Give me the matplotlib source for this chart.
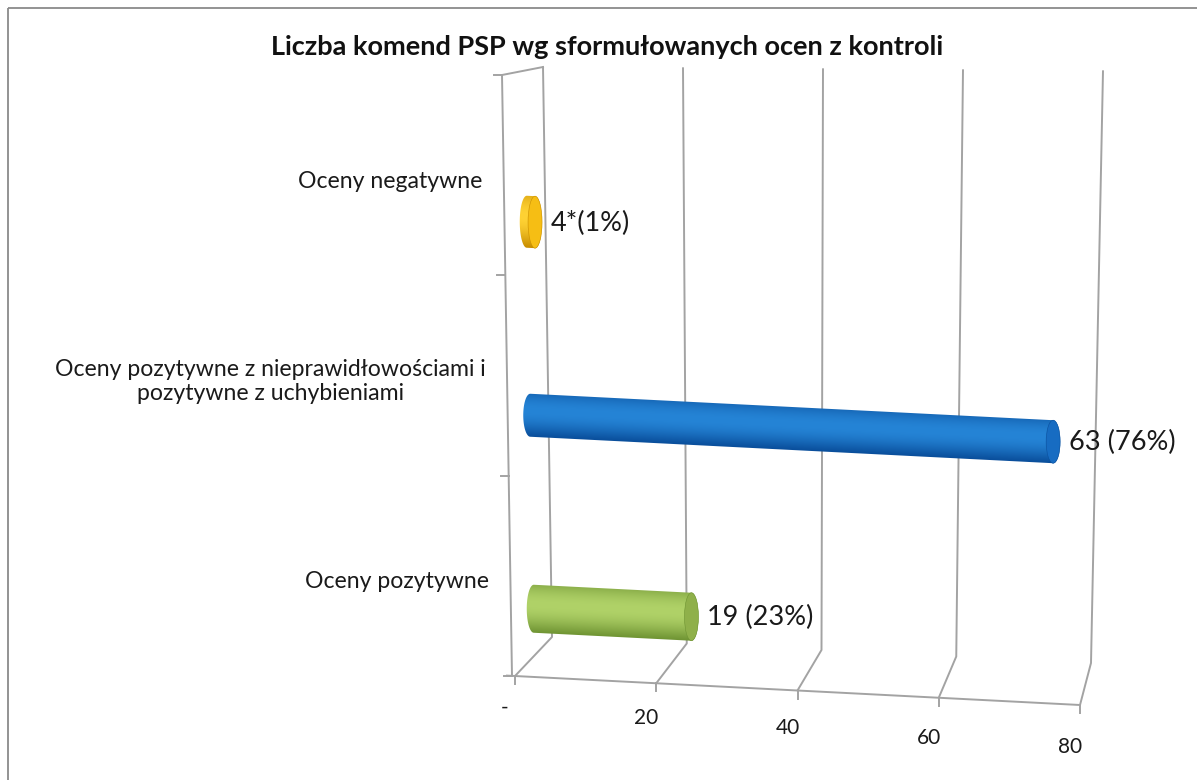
import matplotlib
matplotlib.use('Agg')
import matplotlib.pyplot as plt
from matplotlib.path import Path
from matplotlib.patches import PathPatch, Ellipse, Rectangle
import matplotlib.colors as mcolors
import numpy as np

plt.rcParams['font.family'] = ['Lato', 'DejaVu Sans']

title = "Liczba komend PSP wg sformułowanych ocen z kontroli"
categories = ["Oceny pozytywne",
              "Oceny pozytywne z nieprawidłowościami i\npozytywne z uchybieniami",
              "Oceny negatywne"]
# bar lengths as drawn in the chart (the "negative" bar is drawn at ~1)
values = [19, 63, 1]
bar_labels = ["19 (23%)", "63 (76%)", "4*(1%)"]
ticks = [0, 20, 40, 60, 80]
tick_labels = ["-", "20", "40", "60", "80"]
vmax = 80
ncat = len(categories)

# cylinder colours: (dark edge, highlight, end cap)
bar_colors = [("#6f9433", "#b0d268", "#8fb04a"),
              ("#0a4f9c", "#2584d6", "#176cc2"),
              ("#c98e00", "#ffd234", "#f6be14")]
radii = [24, 21.5, 26]
cap_w = 7
grid_col = "#a3a3a3"


def lerp(a, b, t):
    a = np.asarray(a, float)
    b = np.asarray(b, float)
    return a + (b - a) * t


# "3d" frame, done by hand in pixel space
wall = {(0, 0): (552, 637), (1, 0): (1091, 663), (0, 1): (543, 67), (1, 1): (1103, 71)}


def back(v, c):
    u = v / vmax
    w = c / ncat
    bottom = lerp(wall[0, 0], wall[1, 0], u)
    top = lerp(wall[0, 1], wall[1, 1], u)
    return lerp(bottom, top, w)


def front_floor(v):
    return lerp((515, 676), (1080, 705), v / vmax)


def front_axis(c):
    return lerp((512, 676), (502, 75), c / ncat)


def bar_point(v, c):
    return np.array([535.5, 705.5]) + v * np.array([8.3, 0.42]) + c * np.array([-3.5, -193.5])


fig = plt.figure(figsize=(11.97, 7.80), dpi=100)
ax = fig.add_axes([0, 0, 1, 1])
ax.set_xlim(0, 1197)
ax.set_ylim(780, 0)
ax.axis('off')

# outer frame
ax.add_patch(Rectangle((8, 8), 1300, 900, fill=False, ec="#8a8a8a", lw=1.3))

lw = 1.4
# gridlines: floor diagonal + vertical on back wall
for v in ticks:
    f = front_floor(v)
    b0 = back(v, 0)
    b1 = back(v, ncat)
    ax.plot([f[0], b0[0], b1[0]], [f[1], b0[1], b1[1]], color=grid_col, lw=lw,
            solid_capstyle='round', solid_joinstyle='round')
    # tick mark
    ax.plot([f[0], f[0]], [f[1], f[1] + 8], color=grid_col, lw=lw)

# front value axis
f0 = front_floor(0)
f1 = front_floor(vmax)
ax.plot([f0[0] - 8, f1[0]], [f0[1] - 0.4, f1[1]], color=grid_col, lw=lw)

# category axis (front left) and left wall top
a0 = front_axis(0)
a1 = front_axis(ncat)
ax.plot([a0[0], a1[0]], [a0[1], a1[1]], color=grid_col, lw=lw)
bt = back(0, ncat)
ax.plot([a1[0], bt[0]], [a1[1], bt[1]], color=grid_col, lw=lw)
for c in range(ncat + 1):
    p = front_axis(c)
    ax.plot([p[0] - 8, p[0]], [p[1], p[1]], color=grid_col, lw=lw)

# category labels
for i, name in enumerate(categories):
    p = front_axis(i + 0.5)
    ax.text(p[0] - 21, p[1] + 6, name, ha='right', va='center', multialignment='center',
            fontsize=16.6, color="#1a1a1a", linespacing=1.15)

# value tick labels
for v, lab in zip(ticks, tick_labels):
    p = front_floor(v)
    ax.text(p[0] - 10, p[1] + 32 + v * 0.13, lab, ha='center', va='center',
            fontsize=15, color="#1a1a1a")


def shade(t, dark, light):
    d = np.array(mcolors.to_rgb(dark))
    l = np.array(mcolors.to_rgb(light))
    s = np.clip((t + 0.2) / 1.2, -1, 1)
    k = np.cos(s * np.pi / 2) ** 1.1
    return d + (l - d) * k[..., None]


# cylinders
for i, (val, lab) in enumerate(zip(values, bar_labels)):
    dark, light, capc = bar_colors[i]
    r = radii[i]
    L = bar_point(0, i + 0.5)
    R = bar_point(val, i + 0.5)
    th = np.linspace(0, np.pi, 40)
    left = np.column_stack([L[0] - cap_w * np.sin(th), L[1] - r * np.cos(th)])
    right = np.column_stack([R[0] + cap_w * np.sin(th), R[1] + r * np.cos(th)])
    verts = np.vstack([left, right, left[:1]])
    codes = [Path.MOVETO] + [Path.LINETO] * (len(verts) - 2) + [Path.CLOSEPOLY]
    body = PathPatch(Path(verts, codes), fc='none', ec='none')
    ax.add_patch(body)

    x0, x1 = L[0] - cap_w - 2, R[0] + cap_w + 2
    y0, y1 = min(L[1], R[1]) - r - 2, max(L[1], R[1]) + r + 2
    xs = np.linspace(x0, x1, int(x1 - x0) * 2 + 2)
    ys = np.linspace(y0, y1, int(y1 - y0) * 2 + 2)
    X, Y = np.meshgrid(xs, ys)
    slope = (R[1] - L[1]) / (R[0] - L[0])
    T = np.clip((Y - (L[1] + (X - L[0]) * slope)) / r, -1, 1)
    img = shade(T, dark, light)
    im = ax.imshow(img, extent=(x0, x1, y1, y0), origin='upper', interpolation='bilinear',
                   zorder=3)
    im.set_clip_path(body)

    cap = Ellipse((R[0], R[1]), 2 * cap_w, 2 * r, fc=capc, ec=dark, lw=0.4, zorder=4)
    ax.add_patch(cap)

    ax.text(R[0] + cap_w + 9, R[1] + 1, lab, ha='left', va='center', fontsize=19.5,
            color="#1a1a1a", zorder=5)

ax.text(607, 47, title, ha='center', va='center', fontsize=19.5, fontweight='bold',
        color="#111111")

fig.savefig("out.png", dpi=100)
plt.close(fig)
